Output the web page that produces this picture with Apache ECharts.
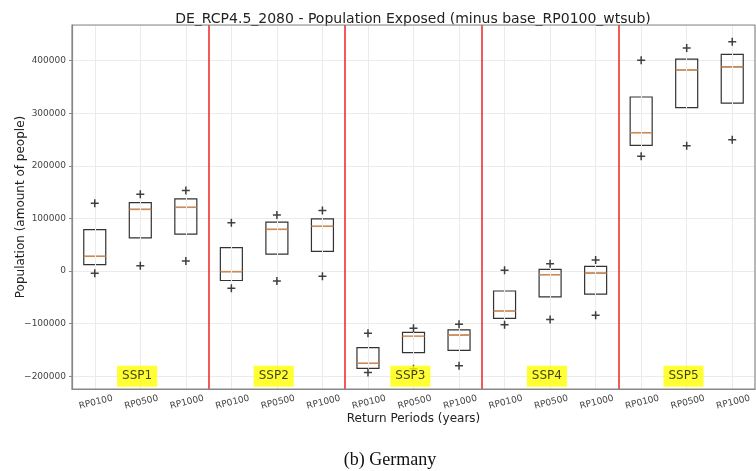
<!DOCTYPE html>
<html>
<head>
<meta charset="utf-8">
<script src="https://cdn.jsdelivr.net/npm/echarts@6/dist/echarts.min.js"></script>
<style>
  html, body { margin: 0; padding: 0; background: #fff; }
  #chart { width: 756px; height: 471px; }
</style>
</head>
<body>
<div id="chart"></div>
<script>
// categories (return periods repeated per scenario)
const categories = ['RP0100','RP0500','RP1000','RP0100','RP0500','RP1000','RP0100','RP0500','RP1000',
  'RP0100','RP0500','RP1000','RP0100','RP0500','RP1000']
const groups = ['SSP1','SSP2','SSP3','SSP4','SSP5']

// box statistics
const q1 =     [12000, 63000, 70000, -18000, 32000, 37500, -185000, -155000, -151000, -90000, -49000, -44000, 239000, 310500, 319000]
const median = [28000, 117000, 121000, -1000, 79000, 85000, -175500, -124000, -122000, -76000, -7000, -4000, 263000, 382500, 388000]
const q3 =     [78500, 130000, 137000, 44300, 93000, 99000, -145800, -116600, -112000, -38000, 3000, 9000, 330800, 403000, 412000]
const upper =  [128700, 145800, 153000, 91800, 106500, 115000, -118500, -109000, -101300, 1300, 14000, 21000, 400500, 424000, 436000]
const lower =  [-4400, 10000, 19000, -33000, -19000, -10000, -193000, -186000, -180000, -102000, -92000, -84000, 218000, 238000, 249600]

const boxData = q1.map((v, i) => [q1[i], q1[i], median[i], q3[i], q3[i]])
const medianData = median.map((v, i) => [i, v])
const markerData = upper.map((v, i) => [i, v]).concat(lower.map((v, i) => [i, v]))
const separators = [2.5, 5.5, 8.5, 11.5]
const labelData = groups.map((g, i) => [i * 3 + 1 - 0.07, -200000, g])

const plus = 'path://M5,0 L5,10 M0,5 L10,5'

const myChart = echarts.init(document.getElementById('chart'))
myChart.setOption({
  backgroundColor: '#ffffff',
  animation: false,
  title: [
    {
      text: 'DE_RCP4.5_2080 - Population Exposed (minus base_RP0100_wtsub)',
      left: 408, top: 7, textAlign: 'center',
      textStyle: { fontFamily: 'DejaVu Sans', fontSize: 14, fontWeight: 'normal', color: '#222' }
    },
    {
      text: '(b) Germany',
      left: 385, top: 446, textAlign: 'center',
      textStyle: { fontFamily: 'Liberation Serif', fontSize: 18, fontWeight: 'normal', color: '#111' }
    }
  ],
  grid: { left: 72, right: 1, top: 25, bottom: 82, containLabel: false, outerBoundsMode: 'none' },
  xAxis: [
    {
      type: 'category',
      data: categories,
      name: 'Return Periods (years)',
      nameLocation: 'middle',
      nameGap: 24,
      nameMoveOverlap: false,
      nameTextStyle: { fontFamily: 'DejaVu Sans', fontSize: 12, color: '#222' },
      axisLine: { onZero: false, lineStyle: { color: '#888', width: 1.2 } },
      axisTick: { alignWithLabel: true, length: 3, lineStyle: { color: '#888' } },
      axisLabel: {
        rotate: 14, align: 'center', verticalAlign: 'top',
        fontFamily: 'DejaVu Sans', fontSize: 9, color: '#444', margin: 9, interval: 0
      },
      splitLine: { show: false }
    },
    {
      type: 'value', min: -0.5, max: 14.5, show: false,
      splitLine: { show: false }
    }
  ],
  yAxis: {
    type: 'value',
    min: -224300, max: 467700,
    splitNumber: 7,
    name: 'Population (amount of people)',
    nameLocation: 'middle',
    nameGap: 45,
    nameMoveOverlap: false,
    nameTextStyle: { fontFamily: 'DejaVu Sans', fontSize: 12, color: '#222' },
    axisLine: { show: true, onZero: false, lineStyle: { color: '#888', width: 1.2 } },
    axisTick: { show: true, length: 3, lineStyle: { color: '#888' } },
    axisLabel: {
      fontFamily: 'DejaVu Sans', fontSize: 9, color: '#444', margin: 6,
      formatter: v => (v % 100000 !== 0 ? '' : v < 0 ? '\u2212' + Math.abs(v) : String(v)),
      showMinLabel: false, showMaxLabel: false
    },
    splitLine: { show: true, lineStyle: { color: '#ebebeb', width: 1 } }
  },
  graphic: [{
    type: 'rect',
    shape: { x: 72, y: 25, width: 683, height: 364 },
    style: { fill: 'none', stroke: '#888', lineWidth: 1.2 },
    silent: true, z: 100
  }],
  series: [
    {
      // vertical grid lines at category centres
      type: 'scatter',
      xAxisIndex: 1,
      data: [],
      markLine: {
        silent: true,
        symbol: 'none',
        label: { show: false },
        lineStyle: { color: '#ebebeb', width: 1, type: 'solid' },
        data: categories.map((c, i) => ({ xAxis: i }))
      },
      z: 0
    },
    {
      type: 'boxplot',
      data: boxData,
      boxWidth: [22, 22],
      itemStyle: { color: 'transparent', borderColor: '#333', borderWidth: 1.2 },
      z: 3
    },
    {
      type: 'scatter',
      xAxisIndex: 1,
      data: medianData,
      symbol: 'rect',
      symbolSize: [22, 1.5],
      itemStyle: { color: '#f5a05a' },
      z: 4
    },
    {
      type: 'scatter',
      xAxisIndex: 1,
      data: markerData,
      symbol: plus,
      symbolSize: 8,
      itemStyle: { color: 'none', borderColor: '#111', borderWidth: 1.5 },
      z: 6
    },
    {
      type: 'scatter',
      xAxisIndex: 1,
      data: [],
      markLine: {
        silent: true,
        symbol: 'none',
        label: { show: false },
        lineStyle: { color: '#ee2222', width: 1.5, type: 'solid' },
        data: separators.map(x => ({ xAxis: x }))
      },
      z: 5
    },
    {
      type: 'scatter',
      xAxisIndex: 1,
      data: labelData,
      symbolSize: 0,
      label: {
        show: true,
        position: 'inside',
        formatter: p => p.value[2],
        fontFamily: 'DejaVu Sans',
        fontSize: 12,
        color: '#111',
        backgroundColor: '#ffff00',
        padding: [5, 5, 4, 5]
      },
      z: 10
    }
  ]
})
</script>
</body>
</html>
